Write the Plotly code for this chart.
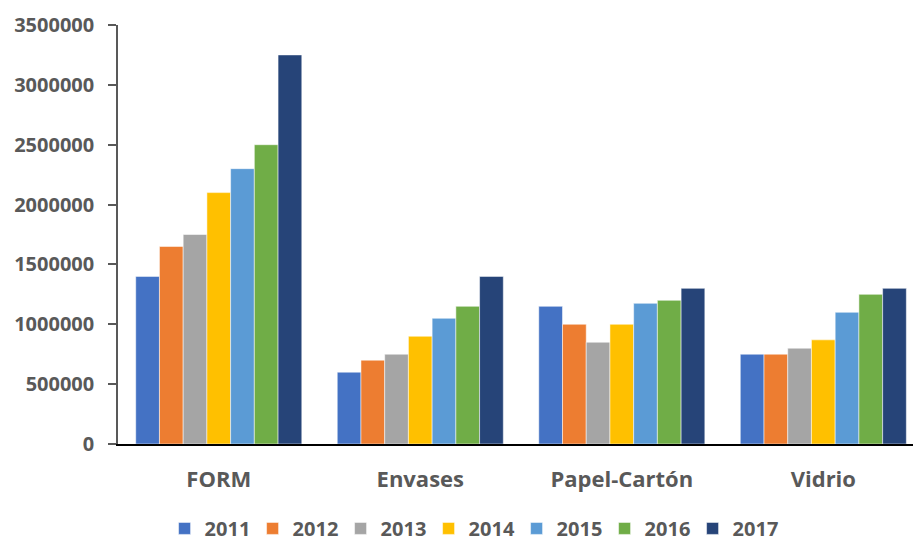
import plotly.graph_objects as go

categories = ["FORM", "Envases", "Papel-Cartón", "Vidrio"]
years = ["2011", "2012", "2013", "2014", "2015", "2016", "2017"]
v2011 = [1400000, 600000, 1150000, 750000]
v2012 = [1650000, 700000, 1000000, 750000]
v2013 = [1750000, 750000, 850000, 800000]
v2014 = [2100000, 900000, 1000000, 870000]
v2015 = [2300000, 1050000, 1175000, 1100000]
v2016 = [2500000, 1150000, 1200000, 1250000]
v2017 = [3250000, 1400000, 1300000, 1300000]
series = [v2011, v2012, v2013, v2014, v2015, v2016, v2017]
colors = ["#4472C4", "#ED7D31", "#A5A5A5", "#FFC000", "#5B9BD5", "#70AD47", "#264478"]
ytick_vals = [0, 500000, 1000000, 1500000, 2000000, 2500000, 3000000, 3500000]
ytick_text = ["0", "500000", "1000000", "1500000", "2000000", "2500000", "3000000", "3500000"]

FONT = "Open Sans"
GRAY = "#595959"

fig = go.Figure()
for yr, vals, c in zip(years, series, colors):
    fig.add_trace(go.Bar(
        name=yr, x=categories, y=vals,
        marker=dict(color=c, line=dict(color="rgba(255,255,255,0.5)", width=1)),
    ))

fig.update_layout(
    width=913, height=541,
    barmode="group", bargap=0.176, bargroupgap=0,
    plot_bgcolor="white", paper_bgcolor="white",
    margin=dict(l=118, r=0, t=25, b=97, autoexpand=False),
    font=dict(family=FONT, color=GRAY, size=20),
    showlegend=True,
    legend=dict(orientation="h", x=0.446, xanchor="center", y=-0.248, yanchor="bottom",
                font=dict(family=FONT, size=20, color=GRAY, weight="bold"),
                itemwidth=30, tracegroupgap=0, borderwidth=0,
                entrywidth=43, entrywidthmode="pixels"),
)
fig.update_yaxes(
    range=[0, 3500000], tickvals=ytick_vals, ticktext=ytick_text,
    showgrid=False, zeroline=False,
    showline=True, linecolor=GRAY, linewidth=1.5,
    ticks="outside", ticklen=8, tickcolor=GRAY, tickwidth=1.5,
    ticklabelstandoff=10,
    tickfont=dict(family=FONT, size=20, color=GRAY, weight="bold"),
)
fig.update_xaxes(
    range=[-0.5, 3.445],
    showgrid=False, zeroline=False,
    showline=True, linecolor="black", linewidth=2,
    ticks="", ticklabelstandoff=15,
    tickfont=dict(family=FONT, size=22, color=GRAY, weight="bold"),
)

fig.write_html("out.html")
